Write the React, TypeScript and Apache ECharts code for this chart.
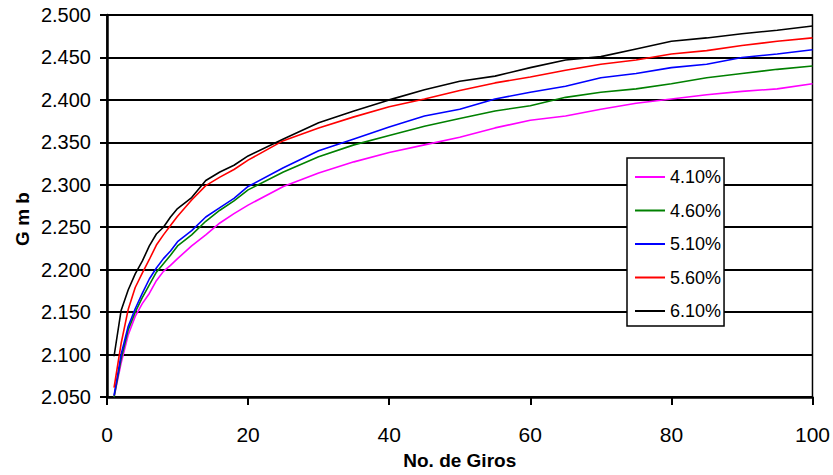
import React, { useEffect, useRef } from "react";
import * as echarts from "echarts";

const gyrations = [1, 2, 3, 4, 5, 6, 7, 8, 9, 10, 12, 14, 16, 18, 20, 25, 30, 35, 40, 45, 50, 55, 60, 65, 70, 75, 80, 85, 90, 95, 100];

const s410 = [2.050, 2.090, 2.123, 2.145, 2.160, 2.172, 2.187, 2.198, 2.205, 2.213, 2.228, 2.241, 2.255, 2.266, 2.276, 2.298, 2.314, 2.327, 2.338, 2.347, 2.356, 2.367, 2.376, 2.381, 2.389, 2.396, 2.401, 2.406, 2.410, 2.413, 2.419];
const s460 = [2.050, 2.095, 2.129, 2.150, 2.167, 2.182, 2.197, 2.207, 2.217, 2.228, 2.241, 2.257, 2.270, 2.281, 2.294, 2.315, 2.333, 2.347, 2.358, 2.369, 2.378, 2.387, 2.393, 2.403, 2.409, 2.413, 2.419, 2.426, 2.431, 2.436, 2.440];
const s510 = [2.052, 2.100, 2.133, 2.154, 2.172, 2.189, 2.202, 2.213, 2.222, 2.233, 2.246, 2.262, 2.273, 2.284, 2.298, 2.320, 2.340, 2.354, 2.368, 2.381, 2.389, 2.401, 2.409, 2.416, 2.426, 2.431, 2.438, 2.442, 2.450, 2.454, 2.459];
const s560 = [2.061, 2.113, 2.153, 2.179, 2.196, 2.212, 2.229, 2.241, 2.252, 2.263, 2.282, 2.299, 2.309, 2.318, 2.329, 2.352, 2.367, 2.380, 2.392, 2.401, 2.411, 2.420, 2.427, 2.435, 2.442, 2.447, 2.454, 2.458, 2.464, 2.469, 2.473];
const s610 = [2.098, 2.152, 2.176, 2.195, 2.210, 2.228, 2.242, 2.250, 2.262, 2.272, 2.285, 2.305, 2.315, 2.323, 2.334, 2.354, 2.373, 2.387, 2.400, 2.412, 2.422, 2.428, 2.438, 2.447, 2.451, 2.460, 2.469, 2.473, 2.478, 2.482, 2.487];

const seriesNames = ["4.10%", "4.60%", "5.10%", "5.60%", "6.10%"];
const seriesValues = [s410, s460, s510, s560, s610];
const seriesColors = ["#ff00ff", "#008000", "#0000ff", "#ff0000", "#000000"];

const yTicks = [2.05, 2.1, 2.15, 2.2, 2.25, 2.3, 2.35, 2.4, 2.45, 2.5];

const FONT = "'Liberation Sans', Arial, sans-serif";

export default function App() {
  const ref = useRef<HTMLDivElement>(null);
  useEffect(() => {
    if (!ref.current) return;
    const chart = echarts.init(ref.current, null, { renderer: "svg" });
    chart.setOption({
      animation: false,
      backgroundColor: "#ffffff",
      textStyle: { fontFamily: FONT },
      grid: {
        left: 107,
        right: 20,
        top: 15,
        bottom: 74,
        show: true,
        borderColor: "#000",
        borderWidth: 1.5,
        backgroundColor: "transparent",
      },
      legend: {
        orient: "vertical",
        left: 627,
        top: 158,
        width: 97,
        padding: [9, 3, 5, 8],
        icon: "rect",
        itemWidth: 30,
        itemHeight: 2,
        itemGap: 13.5,
        backgroundColor: "#fff",
        borderColor: "#000",
        borderWidth: 1.5,
        borderRadius: 0,
        textStyle: { fontSize: 18, lineHeight: 20, color: "#000", fontFamily: FONT },
        data: seriesNames,
      },
      xAxis: {
        type: "value",
        min: 0,
        max: 100,
        interval: 20,
        name: "No. de Giros",
        nameLocation: "middle",
        nameGap: 54,
        nameTextStyle: { fontSize: 19, fontWeight: "bold", color: "#000", fontFamily: FONT },
        axisLine: { show: true, onZero: false, lineStyle: { color: "#000", width: 2.5 } },
        axisTick: { show: true, length: 8, lineStyle: { color: "#000", width: 2 } },
        axisLabel: { fontSize: 21, color: "#000", margin: 27, fontFamily: FONT },
        splitLine: { show: false },
      },
      yAxis: {
        type: "value",
        min: 2.05,
        max: 2.5,
        interval: 0.05,
        axisLine: { show: true, onZero: false, lineStyle: { color: "#000", width: 2.5 } },
        axisTick: { show: true, length: 7, lineStyle: { color: "#000", width: 2 } },
        axisLabel: {
          fontSize: 20,
          color: "#000",
          margin: 16,
          fontFamily: FONT,
          formatter: (v: number) => {
            const t = yTicks.find((k) => Math.abs(k - v) < 1e-6);
            return (t !== undefined ? t : v).toFixed(3);
          },
        },
        splitLine: { show: true, lineStyle: { color: "#000", width: 1.8 } },
      },
      graphic: [
        {
          type: "text",
          x: 22,
          y: 219,
          rotation: Math.PI / 2,
          style: {
            text: "G m b",
            fontSize: 19,
            fontWeight: "bold",
            fill: "#000",
            fontFamily: FONT,
            align: "center",
            verticalAlign: "middle",
          },
        },
      ],
      series: seriesNames.map((name, i) => ({
        name,
        type: "line",
        data: gyrations.map((g, j) => [g, seriesValues[i][j]]),
        symbol: "none",
        lineStyle: { color: seriesColors[i], width: 1.6 },
        itemStyle: { color: seriesColors[i] },
        z: 3 + i,
      })),
    });
    return () => chart.dispose();
  }, []);
  return (
    <div
      ref={ref}
      style={{ position: "fixed", left: 0, top: 0, width: 833, height: 475, background: "#fff" }}
    />
  );
}
